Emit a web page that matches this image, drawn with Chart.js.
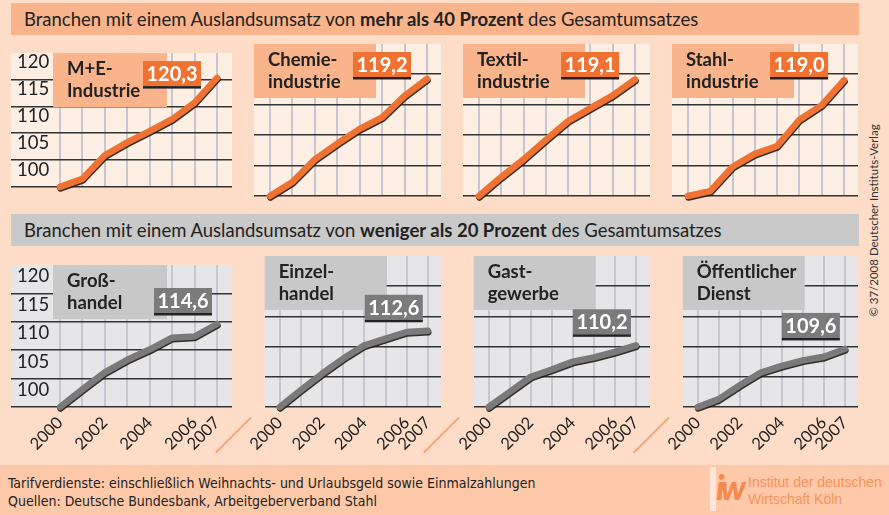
<!DOCTYPE html>
<html>
<head>
<meta charset="utf-8">
<script src="https://cdn.jsdelivr.net/npm/chart.js@4.4.0/dist/chart.umd.min.js"></script>
<style>
body { margin: 0; width: 889px; height: 515px; background: #fddcc8; position: relative; overflow: hidden; font-family: Lato, "Open Sans", sans-serif; color: #222; }
.bar { position: absolute; left: 11px; width: 848px; height: 32px; line-height: 32px; font-size: 18.5px; padding-left: 13px; box-sizing: border-box; white-space: nowrap; }
.bar b { font-weight: bold; }
canvas { position: absolute; }
.sep { position: absolute; width: 50px; height: 1.5px; background: #f5a77a; transform-origin: 0 0; transform: rotate(-45deg); }
#footer { position: absolute; left: 0; top: 465px; width: 889px; height: 50px; background: #fdc9a8; }
#notes { position: absolute; left: 8px; top: 474px; font-family: "Liberation Sans Narrow", "DejaVu Sans Condensed", Lato, sans-serif; font-size: 14px; line-height: 18px; color: #222; }
#logo { position: absolute; left: 710px; top: 467px; width: 6px; height: 44px; background: rgba(255,255,255,0.55); }
#logomark { position: absolute; left: 716px; top: 466px; font: italic 900 34px Lato, sans-serif; color: #f48a50; letter-spacing: -4px; }
#logotext { position: absolute; left: 748px; top: 474px; font-family: "Liberation Sans", Arial, sans-serif; font-size: 14px; line-height: 17px; color: #f5935e; }
#copy { position: absolute; left: 763px; top: 214px; width: 220px; text-align: center; font-size: 11.5px; color: #333; transform: rotate(-90deg); white-space: nowrap; }
</style>
</head>
<body>
<div class="bar" style="top:3px;background:#f9b48b">Branchen mit einem Auslandsumsatz von <b>mehr als 40 Prozent</b> des Gesamtumsatzes</div>
<div class="bar" style="top:214px;background:#c9c9c9">Branchen mit einem Auslandsumsatz von <b>weniger als 20 Prozent</b> des Gesamtumsatzes</div>
<div id="copy">© 37/2008 Deutscher Instituts-Verlag</div>
<div class="sep" style="left:215px;top:452px"></div>
<div class="sep" style="left:423px;top:452px"></div>
<div class="sep" style="left:633px;top:452px"></div>
<div id="footer"></div>
<div id="notes">Tarifverdienste: einschließlich Weihnachts- und Urlaubsgeld sowie Einmalzahlungen<br>Quellen: Deutsche Bundesbank, Arbeitgeberverband Stahl</div>
<div id="logo"></div>
<div id="logomark">iw</div>
<div id="logotext">Institut der deutschen<br>Wirtschaft Köln</div>

<canvas id="c1"></canvas><canvas id="c2"></canvas><canvas id="c3"></canvas><canvas id="c4"></canvas>
<canvas id="c5"></canvas><canvas id="c6"></canvas><canvas id="c7"></canvas><canvas id="c8"></canvas>

<script>
// Tarifverdienste, Index 2000 = 100
var years = [2000, 2001, 2002, 2003, 2004, 2005, 2006, 2007];
var yearLabels = ['2000', '', '2002', '', '2004', '', '2006', '2007'];
var yTicks = [100, 105, 110, 115, 120];

var me_industrie = [100, 101.5, 105.9, 108.3, 110.4, 112.6, 115.7, 120.3];
var chemie = [100, 102.3, 106.0, 108.6, 111.0, 112.9, 116.4, 119.2];
var textil = [100, 103.1, 106.0, 109.2, 112.3, 114.4, 116.5, 119.1];
var stahl = [100, 100.8, 104.8, 106.9, 108.2, 112.5, 114.9, 119.0];
var grosshandel = [100, 103.1, 106.1, 108.3, 110.1, 112.2, 112.4, 114.6];
var einzelhandel = [100, 102.8, 105.5, 108.0, 110.2, 111.3, 112.4, 112.6];
var gastgewerbe = [100, 102.5, 105.0, 106.2, 107.5, 108.2, 109.1, 110.2];
var oeffentlich = [100, 101.3, 103.6, 105.7, 106.8, 107.7, 108.3, 109.6];

var titles_top = [['M+E-', 'Industrie'], ['Chemie-', 'industrie'], ['Textil-', 'industrie'], ['Stahl-', 'industrie']];
var titles_bottom = [['Groß-', 'handel'], ['Einzel-', 'handel'], ['Gast-', 'gewerbe'], ['Öffentlicher', 'Dienst']];

// layout
var PAD = 8;
var PX_PER_YEAR = 22.43;
var colLeft = [11, 254, 463, 672];
var colWidth = [221, 187, 187, 186];
var firstOffset = [49, 16, 16, 16];
var lastOffset = [15, 14, 15, 14];

var styles = {
    top: { bg: '#fdefe4', box: '#f9b48b', value: '#f07232', line: '#f07232', top: 44, height: 152 },
    bottom: { bg: '#e6e6e8', box: '#c8c8c8', value: '#7b7b7b', line: '#7a7a7a', top: 256, height: 151 }
};

var panelDeco = {
    id: 'panelDeco',
    beforeDraw: function(chart, args, o) {
        var a = chart.chartArea, ctx = chart.ctx;
        ctx.save();
        ctx.fillStyle = o.bg;
        ctx.fillRect(a.left, a.top, a.right - a.left, a.bottom - a.top);
        ctx.restore();
    },
    beforeDatasetsDraw: function(chart, args, o) {
        var a = chart.chartArea, ctx = chart.ctx;
        var bx = a.left + o.boxLeft;
        ctx.save();
        ctx.fillStyle = o.box;
        ctx.fillRect(bx, a.top, o.boxWidth, 54);
        ctx.fillStyle = '#222';
        ctx.font = 'bold 18.5px Lato, sans-serif';
        ctx.textBaseline = 'alphabetic';
        ctx.fillText(o.title[0], bx + 14, a.top + 22);
        ctx.fillText(o.title[1], bx + 14, a.top + 44);
        ctx.restore();
    },
    beforeDatasetDraw: function(chart) {
        var ctx = chart.ctx;
        ctx.save();
        ctx.shadowColor = 'rgba(35,25,20,0.9)';
        ctx.shadowOffsetX = 0.5;
        ctx.shadowOffsetY = 1.5;
        ctx.shadowBlur = 0.5;
    },
    afterDatasetDraw: function(chart) {
        chart.ctx.restore();
    },
    afterDatasetsDraw: function(chart, args, o) {
        var ctx = chart.ctx, a = chart.chartArea;
        var data = chart.data.datasets[0].data;
        var last = data[data.length - 1];
        var px = chart.scales.x.getPixelForValue(last.x);
        var py = chart.scales.y.getPixelForValue(last.y);
        var w = 58, h = 25;
        var right, top;
        if (o.row === 'top') {
            right = px - 16;
            top = a.top + 8;
        } else {
            right = px - 5;
            top = py - 9 - 2 - h;
        }
        ctx.save();
        ctx.fillStyle = o.value;
        ctx.fillRect(right - w, top, w, h);
        ctx.fillStyle = '#222';
        ctx.fillRect(right - w, top + h, w, 2.5);
        ctx.fillStyle = '#fff';
        ctx.font = 'bold 20px Lato, sans-serif';
        ctx.textAlign = 'center';
        ctx.textBaseline = 'middle';
        ctx.fillText(last.y.toFixed(1).replace('.', ','), right - w / 2, top + h / 2 + 1);
        ctx.restore();
    }
};

function draw_panel(EleID, col, row, values, title) {
    var st = styles[row];
    var isBottom = row === 'bottom';
    var canvas = document.getElementById(EleID);
    var cw = colWidth[col] + 2 * PAD;
    var ch = st.height + PAD + (isBottom ? 44 : PAD);
    canvas.width = cw;
    canvas.height = ch;
    canvas.style.left = (colLeft[col] - PAD) + 'px';
    canvas.style.top = (st.top - PAD) + 'px';

    var xMin = years[0] - firstOffset[col] / PX_PER_YEAR;
    var xMax = years[years.length - 1] + lastOffset[col] / PX_PER_YEAR;
    var yMax = 100 + st.height / ((st.height - 30) / 20);

    var points = years.map(function(y, i) { return { x: y, y: values[i] }; });

    return new Chart(canvas.getContext('2d'), {
        type: 'line',
        data: {
            datasets: [{
                data: points,
                borderColor: st.line,
                borderWidth: 6.5,
                borderCapStyle: 'round',
                borderJoinStyle: 'round',
                pointRadius: 0,
                tension: 0,
                clip: false
            }]
        },
        options: {
            responsive: false,
            animation: false,
            events: [],
            layout: { padding: { left: PAD, right: PAD, top: PAD, bottom: isBottom ? 0 : PAD } },
            plugins: {
                legend: { display: false },
                tooltip: { enabled: false },
                panelDeco: {
                    row: row, bg: st.bg, box: st.box, value: st.value, title: title,
                    boxLeft: col === 0 ? 42 : 0, boxWidth: col === 0 ? 114 : 122
                }
            },
            scales: {
                x: {
                    type: 'linear',
                    min: xMin,
                    max: xMax,
                    afterBuildTicks: function(s) { s.ticks = years.map(function(v) { return { value: v }; }); },
                    afterFit: function(s) { s.height = isBottom ? 44 : 0; },
                    border: { display: false },
                    grid: { color: '#c6c7d1', lineWidth: 2, drawTicks: false },
                    ticks: {
                        display: isBottom,
                        autoSkip: false,
                        minRotation: 45,
                        maxRotation: 45,
                        padding: 6,
                        color: '#1e1e1e',
                        font: { family: 'Lato', size: 16.5 },
                        callback: function(v) { return yearLabels[years.indexOf(v)]; }
                    }
                },
                y: {
                    min: 100,
                    max: yMax,
                    afterBuildTicks: function(s) { s.ticks = yTicks.map(function(v) { return { value: v }; }); },
                    afterFit: function(s) { s.width = 0; },
                    border: { display: false },
                    grid: { color: '#333', lineWidth: 1.5, drawTicks: false },
                    ticks: {
                        display: col === 0,
                        mirror: true,
                        padding: 6,
                        labelOffset: -17,
                        color: '#222',
                        font: { family: 'Lato', size: 18.5 }
                    }
                }
            }
        },
        plugins: [panelDeco]
    });
}

draw_panel('c1', 0, 'top', me_industrie, titles_top[0]);
draw_panel('c2', 1, 'top', chemie, titles_top[1]);
draw_panel('c3', 2, 'top', textil, titles_top[2]);
draw_panel('c4', 3, 'top', stahl, titles_top[3]);
draw_panel('c5', 0, 'bottom', grosshandel, titles_bottom[0]);
draw_panel('c6', 1, 'bottom', einzelhandel, titles_bottom[1]);
draw_panel('c7', 2, 'bottom', gastgewerbe, titles_bottom[2]);
draw_panel('c8', 3, 'bottom', oeffentlich, titles_bottom[3]);
</script>
</body>
</html>
